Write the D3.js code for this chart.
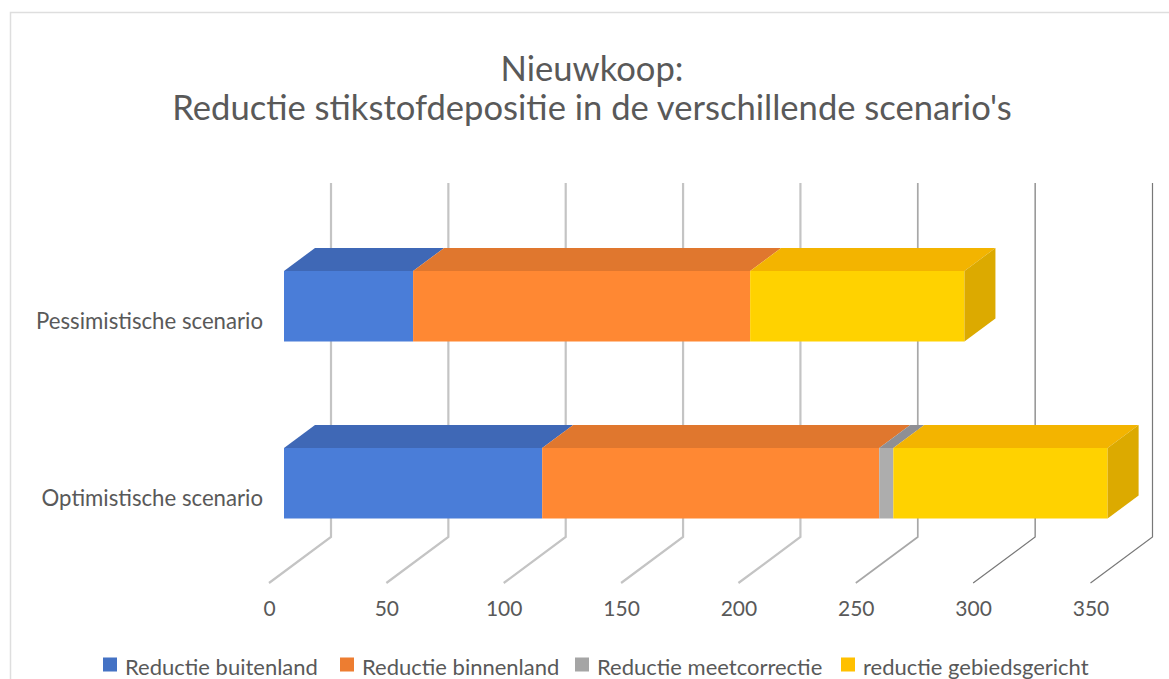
<!DOCTYPE html>
<html>
<head>
<meta charset="utf-8">
<script src="https://cdn.jsdelivr.net/npm/d3@7"></script>
<style>
    html, body { margin: 0; padding: 0; background: #fff; overflow: hidden; }
    svg { display: block; font-family: Lato, "Open Sans", sans-serif; }
</style>
</head>
<body>
<svg id="svg" width="1169" height="679"></svg>
<script>
const titleLines = ['Nieuwkoop:', "Reductie stikstofdepositie in de verschillende scenario's"];
const categories = ['Pessimistische scenario', 'Optimistische scenario'];
const seriesNames = ['Reductie buitenland', 'Reductie binnenland', 'Reductie meetcorrectie', 'reductie gebiedsgericht'];
const buitenland = [55, 110];
const binnenland = [143.6, 143.6];
const meetcorrectie = [0, 6];
const gebiedsgericht = [91.3, 91.3];
const ticks = [0, 50, 100, 150, 200, 250, 300, 350];

const faceColors = ['#4a7dd8', '#ff8833', '#adadad', '#ffd200'];
const topColors = ['#3f68b6', '#e0772e', '#8f8f94', '#f3b400'];
const sideColor = '#dcaa00';
const legendColors = ['#4472c4', '#ed7d31', '#a5a5a5', '#ffc000'];

const svg = d3.select('#svg');

// chart frame, runs off the right and bottom edge of the picture
svg.append('path')
    .attr('d', 'M10.5,679V12.5H1169')
    .attr('fill', 'none')
    .attr('stroke', '#dedede')
    .attr('stroke-width', 1.5);

svg.append('g')
    .selectAll('text')
    .data(titleLines)
    .join('text')
    .attr('x', 592)
    .attr('y', (d, i) => 81 + i * 39)
    .attr('text-anchor', 'middle')
    .attr('font-size', 34.6)
    .attr('fill', '#595959')
    .text(d => d);

const x = d3.scaleLinear().domain([0, 350]).range([269, 1090.5]);
const y = d3.scalePoint().domain(categories).range([306, 483]);

// pseudo 3d offsets
const floorY = 583,
    wallY = 537,
    wallTop = 183,
    depthX = 62;
const barH = 70.5,
    barInset = 15,
    barDx = 31,
    barDy = 23;

// the source picture has heavier, paler lines on the left and thin dark ones on the right
const gridColor = d3.scaleLinear().domain([200, 250, 300]).range(['#c4c4c4', '#a8a8a8', '#787878']).clamp(true);
const gridWidth = d3.scaleLinear().domain([200, 300]).range([2.2, 1.2]).clamp(true);

svg.append('g')
    .selectAll('path')
    .data(ticks)
    .join('path')
    .attr('d', d => `M${x(d)},${floorY}L${x(d) + depthX},${wallY}V${wallTop}`)
    .attr('fill', 'none')
    .attr('stroke', d => gridColor(d))
    .attr('stroke-width', d => gridWidth(d));

svg.append('g')
    .selectAll('text')
    .data(ticks)
    .join('text')
    .attr('x', d => x(d) + 0.5)
    .attr('y', 615.5)
    .attr('text-anchor', 'middle')
    .attr('font-size', 21)
    .attr('fill', '#595959')
    .text(d => d);

svg.append('g')
    .selectAll('text')
    .data(categories)
    .join('text')
    .attr('x', 263)
    .attr('y', d => y(d) + 23)
    .attr('text-anchor', 'end')
    .attr('font-size', 22.2)
    .attr('fill', '#595959')
    .text(d => d);

const rows = categories.map((c, i) => ({
    category: c,
    s0: buitenland[i],
    s1: binnenland[i],
    s2: meetcorrectie[i],
    s3: gebiedsgericht[i]
}));
const stacked = d3.stack().keys(['s0', 's1', 's2', 's3'])(rows);

const bars = svg.append('g');

stacked.forEach((layer, k) => {
    layer.forEach(seg => {
        if (seg[1] - seg[0] <= 0) return;
        const x0 = x(seg[0]) + barInset,
            x1 = x(seg[1]) + barInset,
            yTop = y(seg.data.category) - 35;
        bars.append('path')
            .attr('d', `M${x0},${yTop}L${x0 + barDx},${yTop - barDy}H${x1 + barDx}L${x1},${yTop}Z`)
            .attr('fill', topColors[k]);
        bars.append('rect')
            .attr('x', x0)
            .attr('y', yTop)
            .attr('width', x1 - x0)
            .attr('height', barH)
            .attr('fill', faceColors[k]);
    });
});

// right hand end of each bar
stacked[stacked.length - 1].forEach(seg => {
    const xEnd = x(seg[1]) + barInset,
        yTop = y(seg.data.category) - 35;
    bars.append('path')
        .attr('d', `M${xEnd},${yTop}L${xEnd + barDx},${yTop - barDy}V${yTop - barDy + barH}L${xEnd},${yTop + barH}Z`)
        .attr('fill', sideColor);
});

const legendX = d3.scaleOrdinal().domain(seriesNames).range([103, 340, 575, 841]);
const legend = svg.append('g')
    .selectAll('g')
    .data(seriesNames)
    .join('g')
    .attr('transform', d => `translate(${legendX(d)},0)`);

legend.append('rect')
    .attr('y', 657.5)
    .attr('width', 14)
    .attr('height', 14)
    .attr('fill', (d, i) => legendColors[i]);

legend.append('text')
    .attr('x', 22)
    .attr('y', 675)
    .attr('font-size', 22)
    .attr('fill', '#595959')
    .text(d => d);
</script>
</body>
</html>
